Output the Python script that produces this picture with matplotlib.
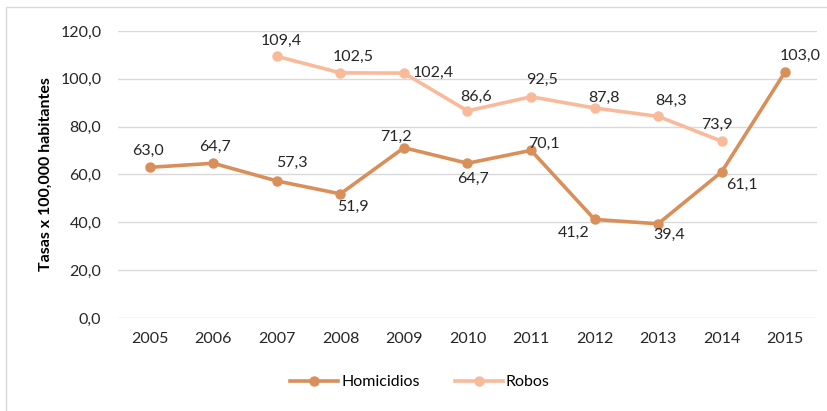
import matplotlib.pyplot as plt
from matplotlib.patches import Rectangle
from matplotlib.ticker import FuncFormatter

years = ['2005', '2006', '2007', '2008', '2009', '2010', '2011', '2012', '2013', '2014', '2015']
homicidios = [63.0, 64.7, 57.3, 51.9, 71.2, 64.7, 70.1, 41.2, 39.4, 61.1, 103.0]
robos = [None, None, 109.4, 102.5, 102.4, 86.6, 92.5, 87.8, 84.3, 73.9, None]

# label offsets in points (dx, dy)
hom_off = [(-1.5, 12), (1.5, 11.5), (11, 13), (9, -9.5), (-6, 8), (4, -11), (9, 5), (-15, -10), (8, -8), (14.5, -9.5), (11, 11.5)]
rob_off = [None, None, (3.5, 11), (9.5, 11.5), (21, 0), (6, 10), (8, 12), (7, 7), (9.5, 11.5), (-3.5, 12), None]

c_hom = '#D98F59'
c_rob = '#F9BA9C'

plt.rcParams['font.family'] = ['Lato', 'DejaVu Sans']

fig = plt.figure(figsize=(8.28, 4.11), dpi=100)
ax = fig.add_axes([118 / 828, 1 - 318 / 411, (817 - 118) / 828, (318 - 31) / 411])

x = list(range(len(years)))
rx = [i for i in x if robos[i] is not None]
ry = [robos[i] for i in rx]

ax.plot(x, homicidios, color=c_hom, lw=2.6, marker='o', ms=6.5, label='Homicidios', zorder=3)
ax.plot(rx, ry, color=c_rob, lw=2.6, marker='o', ms=6.5, label='Robos', zorder=3)

fmt = lambda v: ('%.1f' % v).replace('.', ',')
for i, v in enumerate(homicidios):
    ax.annotate(fmt(v), (i, v), xytext=hom_off[i], textcoords='offset points',
                ha='center', va='center', fontsize=11.5, color='#262626')
for i in rx:
    ax.annotate(fmt(robos[i]), (i, robos[i]), xytext=rob_off[i], textcoords='offset points',
                ha='center', va='center', fontsize=11.5, color='#262626')

ax.set_xlim(-0.5, len(years) - 0.5)
ax.set_ylim(0, 120)
ax.set_yticks(range(0, 121, 20))
ax.yaxis.set_major_formatter(FuncFormatter(lambda v, p: fmt(v)))
ax.set_xticks(x)
ax.set_xticklabels(years)
ax.grid(axis='y', color='#D9D9D9', lw=1)
ax.set_axisbelow(True)
for s in ax.spines.values():
    s.set_visible(False)
ax.tick_params(length=0, labelsize=11.5, colors='#262626')
ax.tick_params(axis='y', pad=12)
ax.tick_params(axis='x', pad=10)
ax.set_ylabel('Tasas x 100,000 habitantes', fontsize=11.5, fontweight='bold', labelpad=5.5)

ax.legend(loc='center', bbox_to_anchor=(420 / 828, 1 - 382 / 411), bbox_transform=fig.transFigure,
          ncol=2, frameon=False, fontsize=11.5, handlelength=3.0, columnspacing=2.2, handletextpad=0.2)

fig.patches.append(Rectangle((6 / 828, -0.1), 1.1, 1 - 7 / 411 + 0.1, transform=fig.transFigure,
                             fill=False, edgecolor='#D9D9D9', lw=1))

fig.savefig('out.png', dpi=100)
